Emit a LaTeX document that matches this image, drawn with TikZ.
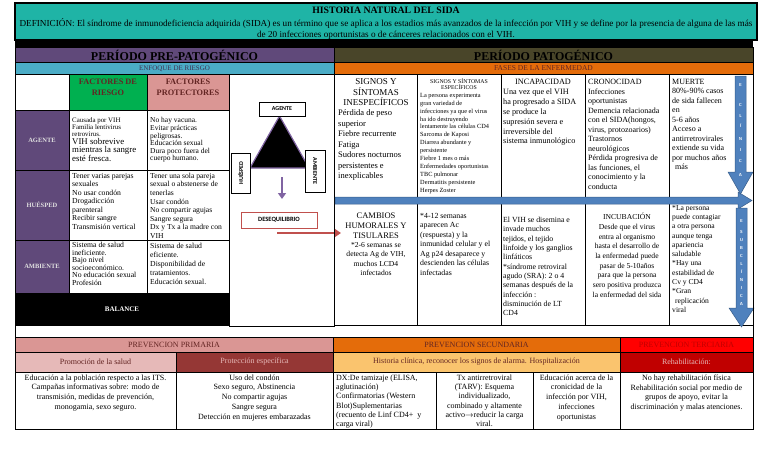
\documentclass[tikz,border=0pt]{standalone}
\usepackage{fontspec}
\setmainfont{Liberation Serif}
\newfontfamily\boxfont{Carlito}
\usetikzlibrary{arrows.meta}

\definecolor{hdteal}{RGB}{31,180,166}
\definecolor{prepurple}{RGB}{96,73,122}
\definecolor{enfblue}{RGB}{75,172,198}
\definecolor{enftext}{RGB}{64,49,82}
\definecolor{riskgreen}{RGB}{0,176,80}
\definecolor{protpink}{RGB}{218,150,148}
\definecolor{darkred}{RGB}{99,37,35}
\definecolor{patolive}{RGB}{73,69,41}
\definecolor{fasesorange}{RGB}{228,108,10}
\definecolor{arrowblue}{RGB}{79,129,189}
\definecolor{arrowedge}{RGB}{56,93,138}
\definecolor{deseqred}{RGB}{192,80,77}
\definecolor{tripurple}{RGB}{128,100,162}
\definecolor{promopink}{RGB}{230,185,184}
\definecolor{protecred}{RGB}{149,55,53}
\definecolor{histyellow}{RGB}{250,196,110}
\definecolor{tercred}{RGB}{255,0,0}
\definecolor{rehabred}{RGB}{192,0,0}

\newcommand{\fsz}[2]{\fontsize{#1}{#2}\selectfont}

\begin{document}
\begin{tikzpicture}[x=1pt, y=-1pt,
  txt/.style={anchor=north west, inner sep=0pt, align=left},
  ctxt/.style={anchor=north, inner sep=0pt, align=center},
  rowlbl/.style={font=\fsz{6.5}{7}\bfseries, text=black!12},
  tribox/.style={draw, fill=white, font=\boxfont\bfseries\fsz{6}{7}, inner sep=1pt},
  bigarrow/.style={fill=arrowblue, draw=arrowedge, line width=0.5pt},
  arrlet/.style={text=white, font=\sffamily\bfseries\fsz{4.3}{4.3}, inner sep=0pt}]

\useasboundingbox (0,0) rectangle (768,466);

\filldraw[fill=hdteal, line width=1.2pt] (15,3) rectangle (757,40);
\fill (15,40) rectangle (753,47);
\node[font=\fsz{9.8}{10}\bfseries] (title) at (386,10) {HISTORIA NATURAL DEL SIDA};
\node[ctxt, font=\fsz{9.2}{11}] (defin) at (386,18.5) {DEFINICIÓN: El síndrome de inmunodeficiencia adquirida (SIDA) es un término que se aplica a los estadios más avanzados de la infección por VIH y se define por la presencia de alguna de las más\\de 20 infecciones oportunistas o de cánceres relacionados con el VIH.};

\filldraw[fill=prepurple] (15,47) rectangle (334,62);
\node[font=\fsz{12}{13}\bfseries] (prepat) at (174.5,55) {PERÍODO PRE-PATOGÉNICO};
\filldraw[fill=enfblue] (15,62) rectangle (334,74);
\node[font=\fsz{7}{8}, text=enftext] (enfoque) at (174.5,68.5) {ENFOQUE DE RIESGO};

\draw (15,74) rectangle (69,110);
\filldraw[fill=riskgreen] (69,74) rectangle (147,110);
\filldraw[fill=protpink] (147,74) rectangle (229,110);
\node[ctxt, font=\fsz{8.3}{10.5}\bfseries, text=darkred] (factriesgo) at (108,79) {FACTORES DE\\RIESGO};
\node[ctxt, font=\fsz{8.3}{10.5}\bfseries, text=darkred] (factprot) at (188,79) {FACTORES\\PROTECTORES};

\filldraw[fill=prepurple] (15,110) rectangle (69,293);
\draw (69,110) rectangle (229,293);
\draw (147,110) -- (147,293);
\draw (15,170) -- (229,170);
\draw (15,240) -- (229,240);
\fill (15,293) rectangle (229,326);
\node[rowlbl] (agente) at (42,140) {AGENTE};
\node[rowlbl] (huesped) at (42,205) {HUÉSPED};
\node[rowlbl] (ambiente) at (42,266) {AMBIENTE};
\node[rowlbl, text=white, font=\fsz{7}{8}\bfseries] (balance) at (122,309.5) {BALANCE};

\node[txt, font=\fsz{6.9}{7}] (agriesgo) at (72,117.5) {Causada por VIH\\Familia lentivirus\\retrovirus.};
\node[txt, font=\fsz{8.8}{8.4}] (agriesgob) at (72,138) {VIH sobrevive\\mientras la sangre\\esté fresca.};
\node[txt, font=\fsz{7.5}{7.6}] (agprot) at (150,117.5) {No hay vacuna.\\Evitar prácticas\\peligrosas.\\Educación sexual\\Dura poco fuera del\\cuerpo humano.};
\node[txt, font=\fsz{7.7}{8.5}] (huriesgo) at (72,172.8) {Tener varias parejas\\sexuales\\No usar condón\\Drogadicción\\parenteral\\Recibir sangre\\Transmisión vertical};
\node[txt, font=\fsz{7.6}{8.6}] (huprot) at (150,172.8) {Tener una sola pareja\\sexual o abstenerse de\\tenerlas\\Usar condón\\No compartir agujas\\Sangre segura\\Dx y Tx a la madre con\\VIH};
\node[txt, font=\fsz{7.7}{7.6}] (amriesgo) at (72,242) {Sistema de salud\\ineficiente.\\Bajo nivel\\socioeconómico.\\No educación sexual\\Profesión};
\node[txt, font=\fsz{7.7}{9}] (amprot) at (150,242.5) {Sistema de salud\\eficiente.\\Disponibilidad de\\tratamientos.\\Educación sexual.};

\draw (229,74) rectangle (334,326);
\filldraw[fill=black, draw=tripurple, line width=1.2pt] (279.5,116) -- (250,168) -- (309,168) -- cycle;
\node[tribox, minimum width=46, minimum height=14] (agentebox) at (282,109) {AGENTE};
\node[tribox, rotate=90, minimum width=40, minimum height=19] (huespedbox) at (240.5,173) {HUÉSPED};
\node[tribox, rotate=-90, minimum width=42, minimum height=20] (ambientebox) at (315,171) {AMBIENTE};
\node[tribox, draw=deseqred, line width=0.9pt, font=\boxfont\bfseries\fsz{6.5}{7}, minimum width=76, minimum height=16] (deseq) at (279,220) {DESEQUILIBRIO};
\coordinate (tribot) at (282,177);
\coordinate (deseqtop) at (282,199);
\draw[tripurple, line width=2pt, -{Triangle[length=6pt, width=8pt]}] (tribot) -- (deseqtop);
\coordinate (redstart) at (277,233);
\coordinate (redend) at (341,233);
\draw[deseqred, line width=2.6pt, -{Triangle[length=7pt, width=9pt]}] (redstart) -- (redend);

\filldraw[fill=patolive] (334,47) rectangle (753,62);
\node[font=\fsz{12}{13}\bfseries] (pat) at (543.5,55) {PERÍODO PATOGÉNICO};
\filldraw[fill=fasesorange] (334,62) rectangle (753,74);
\node[font=\fsz{7.5}{8}, text=darkred] (fases) at (543.5,68.5) {FASES DE LA ENFERMEDAD};
\draw (334,74) rectangle (753,325);
\foreach \x in {417,501,585,669} \draw (\x,74) -- (\x,325);

\node[ctxt, font=\fsz{9}{10.5}] (inesph) at (376,78.5) {SIGNOS Y\\SÍNTOMAS\\INESPECÍFICOS};
\node[txt, font=\fsz{8.5}{10.5}] (inesp) at (338,109.5) {Pérdida de peso\\superior\\Fiebre recurrente\\Fatiga\\Sudores nocturnos\\persistentes e\\inexplicables};
\node[ctxt, font=\fsz{5.8}{6.3}] (esph) at (459,78.5) {SIGNOS Y SÍNTOMAS\\ESPECÍFICOS};
\node[txt, font=\fsz{6.3}{7.9}] (esp) at (420,93) {La persona experimenta\\gran variedad de\\infecciones ya que el virus\\ha ido destruyendo\\lentamente las células CD4\\Sarcoma de Kaposi\\Diarrea abundante y\\persistente\\Fiebre 1 mes o más\\Enfermedades oportunistas\\TBC pulmonar\\Dermatitis persistente\\Herpes Zoster};
\node[ctxt, font=\fsz{8.2}{9.8}] (incaph) at (543,79) {INCAPACIDAD};
\node[txt, font=\fsz{8.2}{9.8}] (incap) at (503,89) {Una vez que el VIH\\ha progresado a SIDA\\se produce la\\supresión severa e\\irreversible del\\sistema inmunológico};
\node[txt, font=\fsz{8}{9.5}] (cronic) at (588,79) {CRONOCIDAD\\Infecciones\\oportunistas\\Demencia relacionada\\con el SIDA(hongos,\\virus, protozoarios)\\Trastornos\\neurológicos\\Pérdida progresiva de\\las funciones, el\\conocimiento y la\\conducta};
\node[txt, font=\fsz{8}{9.5}] (muerte) at (672,79) {MUERTE\\80\%-90\% casos\\de sida fallecen\\en\\5-6 años\\Acceso a\\antirretrovirales\\extiende su vida\\por muchos años\\\hspace*{3pt}más};

\node[ctxt, font=\fsz{8.5}{10}] (cambiosh) at (376,212.5) {CAMBIOS\\HUMORALES Y\\TISULARES};
\node[ctxt, font=\fsz{7.6}{9.5}] (cambios) at (376,242) {*2-6 semanas se\\detecta Ag de VIH,\\muchos LCD4\\infectados};
\node[txt, font=\fsz{7.8}{9.5}] (semanas) at (420,213) {*4-12 semanas\\aparecen Ac\\(respuesta) y la\\inmunidad celular y el\\Ag p24 desaparece y\\descienden las células\\infectadas};
\node[txt, font=\fsz{7.8}{9.3}] (disemina) at (503,217) {El VIH se disemina e\\invade muchos\\tejidos, el tejido\\linfoide y los ganglios\\linfáticos\\*síndrome retroviral\\agudo (SRA): 2 o 4\\semanas después de la\\infección :\\disminución de LT\\CD4};
\node[ctxt, font=\fsz{7.6}{9.7}] (incub) at (627,213) {INCUBACIÓN\\Desde que el virus\\entra al organismo\\hasta el desarrollo de\\la enfermedad puede\\pasar de 5-10años\\para que la persona\\sero positiva produzca\\la enfermedad del sida};
\node[txt, font=\fsz{7.6}{9.3}] (contagio) at (672,205) {*La persona\\puede contagiar\\a otra persona\\aunque tenga\\apariencia\\saludable\\*Hay una\\estabilidad de\\Cv y CD4\\*Gran\\\hspace*{3pt}replicación\\viral};

\filldraw[bigarrow] (335,197) -- (738,197) -- (738,192) -- (752,200.5) -- (738,209) -- (738,204) -- (335,204) -- cycle;
\filldraw[bigarrow] (735,76) -- (746,76) -- (746,172) -- (753,172) -- (740.5,194) -- (728,172) -- (735,172) -- cycle;
\filldraw[bigarrow] (736,208) -- (747,208) -- (747,308) -- (754,308) -- (741.5,327) -- (729,308) -- (736,308) -- cycle;
\foreach \l/\y [count=\i] in {E/85,C/105,L/116,Í/126,N/139,I/150,C/161,A/175}
  \node[arrlet] (clin\i) at (740.5,\y) {\l};
\foreach \l/\y [count=\i] in {E/221,S/232,U/240,B/248,C/256,L/264,Í/272,N/280,I/288,C/296,A/304}
  \node[arrlet] (subc\i) at (741.5,\y) {\l};

\filldraw[fill=protpink] (15,337) rectangle (333,352);
\filldraw[fill=fasesorange] (333,337) rectangle (620,352);
\filldraw[fill=tercred] (620,337) rectangle (753,352);
\filldraw[fill=promopink] (15,352) rectangle (176,372);
\filldraw[fill=protecred] (176,352) rectangle (333,372);
\filldraw[fill=histyellow] (333,352) rectangle (620,372);
\filldraw[fill=rehabred] (620,352) rectangle (753,372);
\draw (15,372) rectangle (753,429);
\foreach \x in {176,333,436,533,620} \draw (\x,372) -- (\x,429);

\node[font=\fsz{8}{9}, text=darkred] (primaria) at (174,344.5) {PREVENCION PRIMARIA};
\node[font=\fsz{8}{9}, text=darkred] (secundaria) at (476.5,344.5) {PREVENCION SECUNDARIA};
\node[font=\fsz{8}{9}, text=rehabred] (terciaria) at (686.5,344.5) {PREVENCION TERCIARIA};
\node[font=\fsz{8}{9}, text=darkred] (promocion) at (95.5,361.5) {Promoción de la salud};
\node[font=\fsz{8}{9}, text=promopink] (proteccion) at (254.5,361.5) {Protección específica};
\node[font=\fsz{8}{9}, text=darkred] (historia) at (476.5,361.5) {Historia clínica, reconocer los signos de alarma. Hospitalización};
\node[font=\fsz{8}{9}, text=promopink] (rehab) at (686.5,361.5) {Rehabilitación:};

\node[ctxt, font=\fsz{8}{9.7}] (promotxt) at (95.5,374.5) {Educación a la población respecto a las ITS.\\Campañas informativas sobre: modo de\\transmisión, medidas de prevención,\\monogamia, sexo seguro.};
\node[ctxt, font=\fsz{8}{9.7}] (protectxt) at (254.5,374.5) {Uso del condón\\Sexo seguro, Abstinencia\\No compartir agujas\\Sangre segura\\Detección en mujeres embarazadas};
\node[txt, font=\fsz{8}{9.3}] (dxtxt) at (336,374.5) {DX:De tamizaje (ELISA,\\aglutinación)\\Confirmatorias (Western\\Blot)Suplementarias\\(recuento de Linf CD4+~ y\\carga viral)};
\node[ctxt, font=\fsz{8}{9.3}] (txtarv) at (484.5,374.5) {Tx antirretroviral\\(TARV): Esquema\\individualizado,\\combinado y altamente\\activo$\rightarrow$reducir la carga\\viral.};
\node[ctxt, font=\fsz{8}{9.7}] (edutxt) at (576.5,374.5) {Educación acerca de la\\cronicidad de la\\infección por VIH,\\infecciones\\oportunistas};
\node[ctxt, font=\fsz{8}{9.7}] (rehabtxt) at (686.5,374.5) {No hay rehabilitación física\\Rehabilitación social por medio de\\grupos de apoyo, evitar la\\discriminación y malas atenciones.};

\draw[line width=1pt] (15,47) rectangle (753,429);

\end{tikzpicture}
\end{document}
